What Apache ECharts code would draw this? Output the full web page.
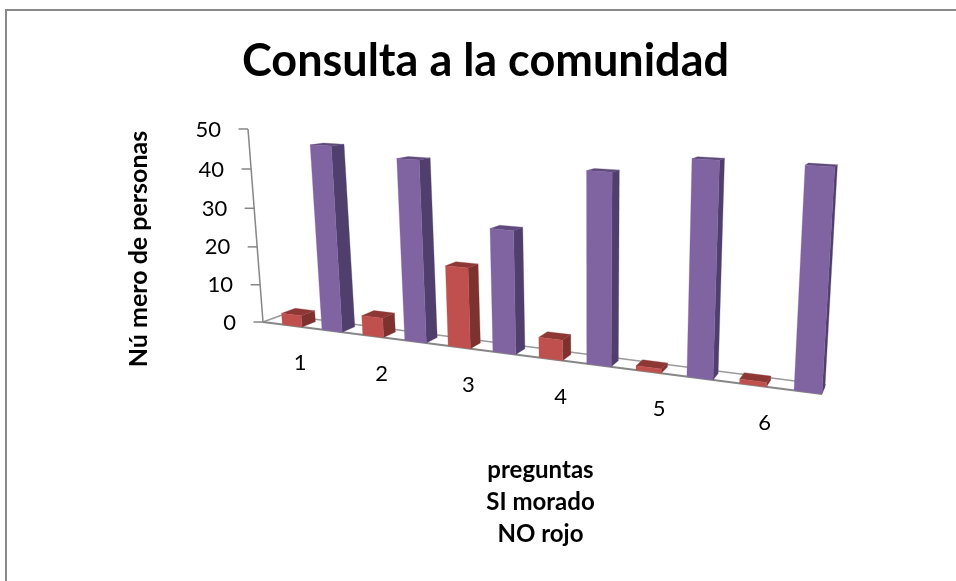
<!DOCTYPE html>
<html><head><meta charset="utf-8">
<style>html,body{margin:0;padding:0;background:#fff}#c{width:956px;height:581px}</style>
<script src="https://cdn.jsdelivr.net/npm/echarts@6/dist/echarts.min.js"></script>
</head><body><div id="c"></div>
<script>
// ---- data ----
const categories = ['1','2','3','4','5','6'];
const noValues = [3,5,20,5,1,1];
const siValues = [47,45,30,45,49,49];
const yTicks = [0,10,20,30,40,50];
const chartTitle = 'Consulta a la comunidad';
const yName = 'Nú mero de personas';
const xName = 'preguntas\nSI morado\nNO rojo';

// ---- fake-3D view: the grid's unit square is projected onto the tilted front wall ----
const FONT = 'Lato';
const QUAD = {A:[263,322],B:[822,394],D:[835,162],C:[248,129]};
const VP = [970,60], BAR_DEPTH = 0.02, FLOOR_DEPTH = 0.027;
const H = (function(){
  const [x0,y0]=QUAD.A,[x1,y1]=QUAD.B,[x2,y2]=QUAD.D,[x3,y3]=QUAD.C;
  const dx1=x1-x2,dx2=x3-x2,sx=x0-x1+x2-x3,dy1=y1-y2,dy2=y3-y2,sy=y0-y1+y2-y3;
  const den=dx1*dy2-dx2*dy1,g=(sx*dy2-dx2*sy)/den,h=(dx1*sy-sx*dy1)/den;
  return {a:x1-x0+g*x1,b:x3-x0+h*x3,c:x0,d:y1-y0+g*y1,e:y3-y0+h*y3,f:y0,g,h};
})();
function proj(cs,px,py,t){
  const u=(px-cs.x)/cs.width, v=(cs.y+cs.height-py)/cs.height;
  const w=H.g*u+H.h*v+1;
  const X=(H.a*u+H.b*v+H.c)/w, Y=(H.d*u+H.e*v+H.f)/w;
  t=t||0;
  return [X+(VP[0]-X)*t, Y+(VP[1]-Y)*t];
}
const poly=(points,fill)=>({type:'polygon',shape:{points},style:{fill,stroke:fill,lineWidth:0.3}});
const seg=(a,b,w,col)=>({type:'line',shape:{x1:a[0],y1:a[1],x2:b[0],y2:b[1]},style:{stroke:col,lineWidth:w}});
const AX='#868686';

function barRenderer(offset,front,side,top){
  return function(params,api){
    const cs=params.coordSys, band=api.size([1,0])[0];
    const base=api.coord([api.value(0),0]), tip=api.coord([api.value(0),api.value(1)]);
    const x0=base[0]-band/2+offset*band, x1=x0+band/4, y0=base[1], y1=tip[1];
    const bl=proj(cs,x0,y0),br=proj(cs,x1,y0),tl=proj(cs,x0,y1),tr=proj(cs,x1,y1);
    const brB=proj(cs,x1,y0,BAR_DEPTH),trB=proj(cs,x1,y1,BAR_DEPTH),tlB=proj(cs,x0,y1,BAR_DEPTH);
    return {type:'group',children:[
      poly([br,brB,trB,tr],side),
      poly([tl,tr,trB,tlB],top),
      poly([bl,br,tr,tl],front)
    ]};
  };
}
const toPairs=vals=>vals.map((v,i)=>[i,v]);

const option={
  animation:false,
  backgroundColor:'#fff',
  title:{text:chartTitle,left:237,top:34,
    textStyle:{fontFamily:FONT,fontSize:45,fontWeight:'bold',color:'#000'}},
  grid:{left:263,width:559,top:129,height:193},
  xAxis:{type:'category',data:categories,
    axisLine:{show:false},axisTick:{show:false},axisLabel:{show:false},splitLine:{show:false},
    name:xName,nameLocation:'middle',nameGap:132,
    nameTextStyle:{fontFamily:FONT,fontSize:24,fontWeight:'bold',color:'#000',lineHeight:32,align:'center',padding:[0,4,0,0]}},
  yAxis:{type:'value',min:0,max:50,interval:10,
    axisLine:{show:false},axisTick:{show:false},axisLabel:{show:false},splitLine:{show:false},
    name:yName,nameLocation:'middle',nameGap:112,nameRotate:90,
    nameTextStyle:{fontFamily:FONT,fontSize:25,fontWeight:'bold',color:'#000',padding:[0,47,0,0]}},
  graphic:[
    {type:'line',silent:true,shape:{x1:5,y1:10,x2:956,y2:10},style:{stroke:'#898989',lineWidth:2}},
    {type:'line',silent:true,shape:{x1:6,y1:10,x2:6,y2:581},style:{stroke:'#898989',lineWidth:2}}
  ],
  series:[
    {name:'suelo',type:'custom',coordinateSystem:'cartesian2d',clip:false,silent:true,z:1,
     data:[[0,0]],encode:{x:0,y:1},
     renderItem(params,api){
       const cs=params.coordSys,l=cs.x,r=cs.x+cs.width,b=cs.y+cs.height,t=cs.y;
       const a=proj(cs,l,b),c=proj(cs,r,b),aB=proj(cs,l,b,FLOOR_DEPTH),cB=proj(cs,r,b,FLOOR_DEPTH);
       return {type:'group',children:[
         seg(aB,cB,1.5,'#9a9a9a'),seg(a,aB,1.5,'#9a9a9a'),
         seg(a,c,2,AX),seg(a,proj(cs,l,t),1.5,AX)
       ]};
     }},
    {name:'ejeY',type:'custom',coordinateSystem:'cartesian2d',clip:false,silent:true,z:2,
     data:yTicks.map(v=>[0,v]),encode:{x:0,y:1},
     renderItem(params,api){
       const cs=params.coordSys,p=proj(cs,cs.x,api.coord([0,api.value(1)])[1]);
       return {type:'group',children:[
         seg([p[0]-9.5,p[1]],p,1.5,AX),
         {type:'text',style:{text:String(api.value(1)),x:p[0]-27,y:p[1]+0.5,align:'right',verticalAlign:'middle',
           fontFamily:FONT,fontSize:22,fill:'#000'}}
       ]};
     }},
    {name:'categorias',type:'custom',coordinateSystem:'cartesian2d',clip:false,silent:true,z:2,
     data:categories.map((c,i)=>[i,0]),encode:{x:0,y:1},
     renderItem(params,api){
       const cs=params.coordSys,i=api.value(0),c=api.coord([i,0]),p=proj(cs,c[0],c[1]);
       return {type:'text',style:{text:categories[i],x:p[0]-2,y:p[1]+36,align:'center',verticalAlign:'middle',
         fontFamily:FONT,fontSize:22,fill:'#000'}};
     }},
    {name:'NO',type:'custom',coordinateSystem:'cartesian2d',clip:false,z:3,
     data:toPairs(noValues),encode:{x:0,y:1},renderItem:barRenderer(0.25,'#C0504D','#7E3230','#8E3836')},
    {name:'SI',type:'custom',coordinateSystem:'cartesian2d',clip:false,z:4,
     data:toPairs(siValues),encode:{x:0,y:1},renderItem:barRenderer(0.75,'#8064A2','#503F6C','#5F4A7C')}
  ]
};
echarts.init(document.getElementById('c'),null,{renderer:'canvas'}).setOption(option);
</script></body></html>
